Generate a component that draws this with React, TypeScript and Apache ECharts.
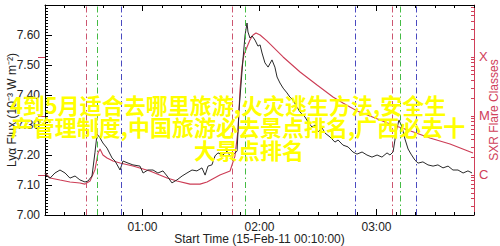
import React, { useEffect, useRef } from "react";
import * as echarts from "echarts";

// minutes after 00:10:00 UT
const lyaTime = [0, 1, 2.6, 5.1, 7.7, 10.3, 12.8, 15.4, 17.9, 20.5, 22, 24.1, 25.6, 26.7, 28.2, 29.7, 31.8, 34.4, 35.9, 38.5, 40, 42.6, 45.1, 48.7, 50.3, 52.8, 55.4, 57.9, 60.5, 62.6, 65.1, 67.7, 70.3, 72.8, 75.4, 77.9, 80.5, 82.1, 83.6, 85.6, 87.2, 88.7, 91.3, 93.3, 94.9, 96.4, 98.5, 99.5, 101.5, 102.6, 103.6, 104.1, 105.1, 106.2, 107.7, 109.2, 110.3, 111.3, 112.8, 114.4, 116.4, 117.9, 119, 120.5, 122.1, 124.1, 125.6, 127.2, 129.2, 130.8, 133.3, 134.9, 136.9, 138.5, 140, 142.1, 143.6, 146.2, 148.7, 150.3, 152.8, 155.4, 157.9, 160, 162.6, 165.1, 167.7, 170.3, 172.8, 175.4, 176.9, 178.5, 180, 181.5, 183.1, 184.6, 186.2, 187.7, 189.7, 191.3, 193.8, 196.4, 199, 201.5, 204.1, 206.7, 209.2, 211.8, 214.4, 216.9, 219];
const lyaFlux = [7.14, 7.13, 7.123, 7.14, 7.15, 7.14, 7.123, 7.13, 7.117, 7.11, 7.113, 7.13, 7.207, 7.27, 7.257, 7.24, 7.223, 7.19, 7.18, 7.15, 7.18, 7.173, 7.167, 7.163, 7.14, 7.15, 7.15, 7.14, 7.147, 7.13, 7.107, 7.117, 7.13, 7.14, 7.15, 7.147, 7.157, 7.133, 7.163, 7.167, 7.197, 7.207, 7.2, 7.213, 7.197, 7.2, 7.213, 7.35, 7.517, 7.6, 7.64, 7.61, 7.59, 7.597, 7.583, 7.563, 7.567, 7.54, 7.507, 7.493, 7.517, 7.493, 7.46, 7.44, 7.423, 7.407, 7.393, 7.383, 7.36, 7.343, 7.327, 7.31, 7.293, 7.3, 7.277, 7.29, 7.273, 7.26, 7.243, 7.25, 7.233, 7.227, 7.21, 7.203, 7.21, 7.2, 7.193, 7.2, 7.193, 7.207, 7.2, 7.21, 7.273, 7.317, 7.293, 7.253, 7.22, 7.203, 7.183, 7.173, 7.177, 7.167, 7.163, 7.167, 7.157, 7.163, 7.15, 7.15, 7.14, 7.147, 7.14];

const sxrTime = [0, 2.6, 7.7, 12.8, 17.9, 20.5, 23.1, 25.6, 27.2, 28.2, 29.7, 31.8, 34.9, 38.5, 45.1, 53.8, 62.6, 67.7, 74.4, 79.5, 83.1, 89.7, 94.9, 97.4, 99, 100, 101, 102, 103.6, 105.1, 106.7, 108.2, 110.3, 113.8, 122.1, 130.8, 139.5, 147.7, 152.8, 156.4, 160, 166.7, 176.9, 187.2, 197.4, 207.7, 219.5];
const sxrFlux = [1.08e-6, 8.9e-7, 8.2e-7, 7.6e-7, 7.3e-7, 7.0e-7, 7.9e-7, 1.22e-6, 2.36e-6, 2.76e-6, 2.18e-6, 1.94e-6, 1.73e-6, 1.6e-6, 1.42e-6, 1.17e-6, 8.9e-7, 7.9e-7, 7.0e-7, 7.0e-7, 7.6e-7, 1.0e-6, 1.17e-6, 2.1e-6, 5.8e-6, 2.76e-5, 6.8e-5, 1.08e-4, 1.48e-4, 1.94e-4, 2.36e-4, 2.55e-4, 2.36e-4, 1.87e-4, 1.0e-4, 5.57e-5, 3.35e-5, 2.1e-5, 1.66e-5, 1.42e-5, 1.22e-5, 1.0e-5, 7.3e-6, 5.6e-6, 4.24e-6, 3.35e-6, 2.36e-6];

const eventTimes = [21.0, 26.7, 39.0, 95.9, 102.6, 159.0, 177.9, 182.1, 190.3];
const eventKinds = ["start", "peak", "end", "start", "peak", "end", "start", "peak", "end"];

const hourTicks = [50, 110, 170];
const hourLabels = ["01:00", "02:00", "03:00"];
const classTicks = [-6, -5, -4];
const classLabels = ["C", "M", "X"];

const overlayLines = [
  "4到5月适合去哪里旅游,火灾逃生方法,安全生",
  "产管理制度,中国旅游必去景点排名,广西必去十",
  "大景点排名",
];

const RED = "#d0405a";
const kindColor: Record<string, string> = { start: "#cc5570", peak: "#44bb44", end: "#4a4ac0" };

export default function App() {
  const ref = useRef<HTMLDivElement>(null);
  useEffect(() => {
    if (!ref.current) return;
    const chart = echarts.init(ref.current, null, { renderer: "svg" });
    const X0 = 0, X1 = 220;
    const YL0 = -6.678, YL1 = -3.119;
    const minorTicks10: number[] = [];
    for (let v = X0; v <= X1; v += 10) minorTicks10.push(v);
    const logMinor: number[] = [];
    for (let n = -7; n <= -3; n++) {
      for (let k = 1; k <= 9; k++) {
        const l = Math.log10(k * Math.pow(10, n));
        if (l >= YL0 && l <= YL1) logMinor.push(l);
      }
    }
    const font = "Liberation Sans, Arial, sans-serif";
    const lineH = [104, 126, 149];
    const lineX = [228, 238, 249];
    chart.setOption({
      animation: false,
      backgroundColor: "#fff",
      grid: { left: 45, right: 26, top: 5, bottom: 31, containLabel: false, outerBoundsMode: "none" },
      xAxis: [
        {
          type: "value", position: "bottom", min: X0, max: X1,
          axisLine: { show: true, onZero: false, lineStyle: { color: "#000", width: 1 } },
          axisTick: { show: true, inside: true, length: 3, customValues: minorTicks10, lineStyle: { color: "#000" } },
          axisLabel: {
            show: true, customValues: hourTicks, margin: 6,
            formatter: (v: number) => hourLabels[hourTicks.indexOf(Math.round(v))] ?? "",
            color: "#222", fontSize: 12, fontFamily: font,
          },
          splitLine: { show: false },
          name: "Start Time (15-Feb-11 00:10:00)", nameLocation: "middle", nameGap: 18, nameMoveOverlap: false,
          nameTextStyle: { color: "#222", fontSize: 12, fontFamily: font },
        },
        {
          type: "value", position: "bottom", min: X0, max: X1,
          axisLine: { show: false },
          axisTick: { show: true, inside: true, length: 6, customValues: hourTicks, lineStyle: { color: "#000" } },
          axisLabel: { show: false }, splitLine: { show: false },
        },
        {
          type: "value", position: "top", min: X0, max: X1,
          axisLine: { show: true, onZero: false, lineStyle: { color: "#000", width: 1 } },
          axisTick: { show: true, inside: true, length: 3, customValues: minorTicks10, lineStyle: { color: "#000" } },
          axisLabel: { show: false }, splitLine: { show: false },
        },
        {
          type: "value", position: "top", min: X0, max: X1,
          axisLine: { show: false },
          axisTick: { show: true, inside: true, length: 6, customValues: hourTicks, lineStyle: { color: "#000" } },
          axisLabel: { show: false }, splitLine: { show: false },
        },
      ],
      yAxis: [
        {
          type: "value", position: "left", min: 7.0, max: 7.7, interval: 0.1,
          axisLine: { show: true, onZero: false, lineStyle: { color: "#000", width: 1 } },
          axisTick: { show: true, inside: true, length: 7, lineStyle: { color: "#000" } },
          minorTick: { show: true, splitNumber: 10, length: 3, lineStyle: { color: "#000" } },
          axisLabel: {
            show: true, margin: 5, showMaxLabel: false,
            formatter: (v: number) => v.toFixed(2), color: "#222", fontSize: 12, fontFamily: font,
          },
          splitLine: { show: false }, minorSplitLine: { show: false },
          name: "Lyα Flux (10⁻³ W m⁻²)", nameLocation: "middle", nameRotate: 90, nameGap: 27, nameMoveOverlap: false,
          nameTextStyle: { color: "#222", fontSize: 12, fontFamily: font },
        },
        {
          type: "value", position: "right", min: YL0, max: YL1,
          axisLine: { show: true, onZero: false, lineStyle: { color: RED, width: 1 } },
          axisTick: { show: true, inside: true, length: 3, customValues: logMinor, lineStyle: { color: RED } },
          axisLabel: {
            show: true, customValues: classTicks, margin: 5,
            formatter: (v: number) => classLabels[classTicks.indexOf(Math.round(v))] ?? "",
            color: RED, fontSize: 13, fontFamily: font,
          },
          splitLine: { show: false },
          name: "SXR Flare Classes", nameLocation: "middle", nameRotate: 90, nameGap: 14, nameMoveOverlap: false,
          nameTextStyle: { color: RED, fontSize: 12, fontFamily: font },
        },
        {
          type: "value", position: "right", min: YL0, max: YL1,
          axisLine: { show: false },
          axisTick: { show: true, inside: true, length: 7, customValues: classTicks, lineStyle: { color: RED } },
          axisLabel: { show: false }, splitLine: { show: false },
        },
      ],
      series: [
        {
          type: "line", xAxisIndex: 0, yAxisIndex: 1, showSymbol: false, symbol: "none",
          data: sxrTime.map((t, i) => [t, Math.log10(sxrFlux[i])]),
          lineStyle: { color: "#cc3c55", width: 1.1 },
          z: 3,
          markLine: {
            silent: true, symbol: "none", label: { show: false },
            data: eventTimes.map((t, i) => ({
              xAxis: t,
              lineStyle: { color: kindColor[eventKinds[i]], width: 1, type: [6, 3, 1.5, 3] },
            })),
          },
        },
        {
          type: "line", xAxisIndex: 0, yAxisIndex: 0, showSymbol: false, symbol: "none",
          data: lyaTime.map((t, i) => [t, lyaFlux[i]]),
          lineStyle: { color: "#2a2a2a", width: 1 },
          z: 4,
        },
      ],
      graphic: overlayLines.map((s, i) => ({
        type: "text", x: lineX[i], y: lineH[i], z: 1000,
        style: {
          text: s, fill: "#ffff00", font: `bold 22px "Noto Sans CJK SC", sans-serif`,
          textAlign: "center", textVerticalAlign: "middle",
        },
      })),
    });
    return () => chart.dispose();
  }, []);
  return <div ref={ref} style={{ width: 500, height: 246, position: "absolute", left: 0, top: 0 }} />;
}
